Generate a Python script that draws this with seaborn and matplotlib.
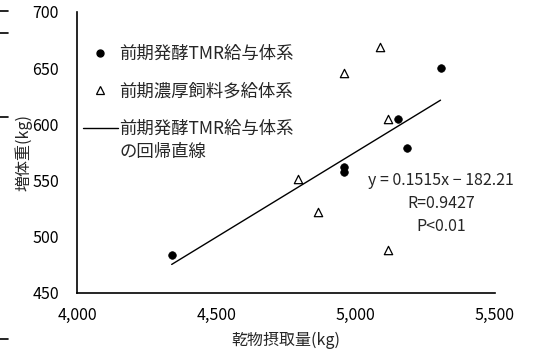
import matplotlib
matplotlib.use("Agg")
import matplotlib.pyplot as plt
import matplotlib.lines as mlines
import seaborn as sns
import pandas as pd
import numpy as np

# Data
tmr_intake = [4340, 4958, 4958, 5154, 5186, 5305]
tmr_gain = [484, 562, 558, 604.5, 579, 650.5]
conc_intake = [5088, 4958, 5115, 4792, 4864, 5115]
conc_gain = [669, 645.5, 605, 551.5, 522, 488.5]
slope = 0.1515
intercept = -182.21
label_tmr = "前期発酵TMR給与体系"
label_conc = "前期濃厚飼料多給体系"
label_reg = "前期発酵TMR給与体系"
label_reg2 = "の回帰直線"
eq_lines = ["y = 0.1515x − 182.21", "R=0.9427", "P<0.01"]
x_ticks = [4000, 4500, 5000, 5500]
y_ticks = [450, 500, 550, 600, 650, 700]
x_label = "乾物摂取量(kg)"
y_label = "増体重(kg)"

sns.set_theme(style="white")
plt.rcParams['font.family'] = ['Noto Sans CJK JP', 'DejaVu Sans']

fig = plt.figure(figsize=(5.42, 3.52), dpi=100)
ax = fig.add_axes([0.142, 0.168, 0.771, 0.798])

df_tmr = pd.DataFrame({"x": tmr_intake, "y": tmr_gain})
df_conc = pd.DataFrame({"x": conc_intake, "y": conc_gain})
xr = np.array([min(tmr_intake), max(tmr_intake)])
df_fit = pd.DataFrame({"x": xr, "y": slope * xr + intercept})

sns.lineplot(data=df_fit, x="x", y="y", ax=ax, color="black", linewidth=1.0)
sns.scatterplot(data=df_tmr, x="x", y="y", ax=ax, color="black", marker="o",
                s=30, edgecolor="black", linewidth=0.5, zorder=3)
sns.scatterplot(data=df_conc, x="x", y="y", ax=ax, marker="^", s=36,
                facecolor="white", edgecolor="black", linewidth=0.9, zorder=3)

ax.set_xlim(4000, 5500)
ax.set_ylim(450, 700)
ax.set_xticks(x_ticks)
ax.set_yticks(y_ticks)
ax.set_xticklabels([f"{v:,}" for v in x_ticks], fontsize=11.5)
ax.set_yticklabels([str(v) for v in y_ticks], fontsize=11.5)
ax.tick_params(axis="y", length=0, pad=13, colors="black")
ax.tick_params(axis="x", length=0, pad=10, colors="black")
ax.set_xlabel(x_label, fontsize=11.5, labelpad=6)
ax.set_ylabel(y_label, fontsize=11.5, labelpad=0)
for s in ["top", "right"]:
    ax.spines[s].set_visible(False)
for s in ["left", "bottom"]:
    ax.spines[s].set_color("black")
    ax.spines[s].set_linewidth(1.2)

h1 = mlines.Line2D([], [], color="black", marker="o", linestyle="None", markersize=5)
h2 = mlines.Line2D([], [], color="black", marker="^", markerfacecolor="white",
                   linestyle="None", markersize=6, markeredgewidth=0.9)
h3 = mlines.Line2D([], [], color="black", linewidth=1.0)
leg = ax.legend([h1, h2, h3], [label_tmr, label_conc, label_reg],
                loc="upper left", bbox_to_anchor=(6 / 418, 0.882), frameon=False,
                fontsize=12.5, labelspacing=1.11, handlelength=2.0, handletextpad=0.1,
                borderaxespad=0, borderpad=0)
ax.annotate(label_reg2, xy=(0, 0), xycoords=leg.get_texts()[2],
            xytext=(0, -5), textcoords="offset pixels", va="top", ha="left",
            fontsize=12.5, zorder=10)

for i, line in enumerate(eq_lines):
    ax.annotate(line, xy=(5306, 549.6), xycoords="data", xytext=(0, -23 * i),
                textcoords="offset pixels", ha="center", va="center", fontsize=11.5)

# small marks at the left edge of the image
for yy in [11, 33, 117, 339]:
    fig.add_artist(mlines.Line2D([0, 8 / 542], [1 - yy / 352, 1 - yy / 352],
                                 transform=fig.transFigure, color="black", linewidth=1.2))

fig.savefig("out.png", dpi=100)
